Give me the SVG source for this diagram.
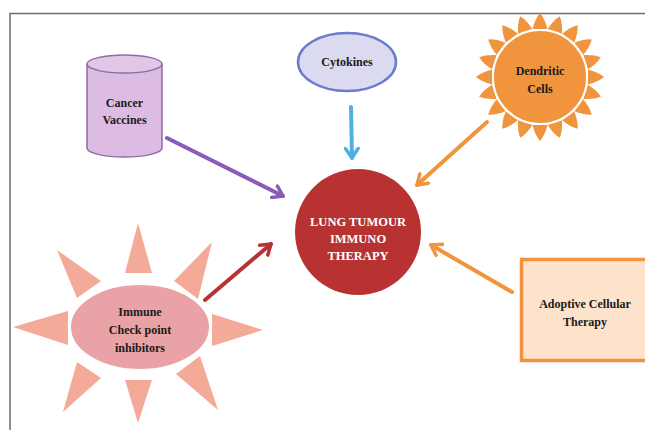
<svg xmlns="http://www.w3.org/2000/svg" width="645" height="430" viewBox="0 0 645 430">
<defs>
<style>
text{font-family:'Liberation Serif','Times New Roman','DejaVu Serif',serif;font-weight:bold;font-size:12px;fill:#1a1a1a;text-anchor:middle}
.conn line{stroke-width:4;stroke-linecap:round;fill:none}
</style>
<marker id="mPurple" viewBox="0 0 10 10" refX="7" refY="5" markerWidth="4" markerHeight="4" orient="auto" markerUnits="strokeWidth"><path d="M1,1 L7,5 L1,9" fill="none" stroke="#8a5cb8" stroke-width="2.2" stroke-linecap="round" stroke-linejoin="round"/></marker>
<marker id="mBlue" viewBox="0 0 10 10" refX="7" refY="5" markerWidth="4" markerHeight="4" orient="auto" markerUnits="strokeWidth"><path d="M1,1 L7,5 L1,9" fill="none" stroke="#4fb0e0" stroke-width="2.2" stroke-linecap="round" stroke-linejoin="round"/></marker>
<marker id="mOrange" viewBox="0 0 10 10" refX="7" refY="5" markerWidth="4" markerHeight="4" orient="auto" markerUnits="strokeWidth"><path d="M1,1 L7,5 L1,9" fill="none" stroke="#f0943e" stroke-width="2.2" stroke-linecap="round" stroke-linejoin="round"/></marker>
<marker id="mRed" viewBox="0 0 10 10" refX="7" refY="5" markerWidth="4" markerHeight="4" orient="auto" markerUnits="strokeWidth"><path d="M1,1 L7,5 L1,9" fill="none" stroke="#b83232" stroke-width="2.2" stroke-linecap="round" stroke-linejoin="round"/></marker>
</defs>
<rect width="645" height="430" fill="#ffffff"/>
<path d="M10,430 V13.5 H645" fill="none" stroke="#6d6d6d" stroke-width="1.5"/>

<g id="checkpoint">
<g fill="#f4aa98">
<polygon points="138,223 125,273 152,273"/>
<polygon points="138,423 125,380 152,380"/>
<polygon points="13,327 68,311 68,345"/>
<polygon points="263,330 212,314 212,346"/>
<polygon points="57,250 77,298 101,281"/>
<polygon points="212,242 174,281 198,299"/>
<polygon points="63,412 77,362 101,378"/>
<polygon points="218,410 176,374 200,356"/>
</g>
<ellipse cx="140" cy="327" rx="70" ry="43" fill="#e9a3a6" stroke="#ffffff" stroke-width="2"/>
<text x="140" y="316" font-family="Liberation Serif, serif">Immune</text>
<text x="140" y="334">Check point</text>
<text x="140" y="352">inhibitors</text>
</g>

<g id="vaccines">
<path d="M87,64 V148 A37.5,9 0 0 0 162,148 V64" fill="#dcbce2" stroke="#8e6aa8" stroke-width="1.5"/>
<ellipse cx="124.5" cy="64" rx="37.5" ry="9" fill="#e2c6e8" stroke="#8e6aa8" stroke-width="1.5"/>
<text x="124.5" y="107">Cancer</text>
<text x="124.5" y="124">Vaccines</text>
</g>

<g id="cytokines">
<ellipse cx="347" cy="62" rx="49" ry="29" fill="#dcdaf0" stroke="#6b7ccc" stroke-width="2.5"/>
<text x="347" y="66">Cytokines</text>
</g>

<g id="dendritic">
<g fill="#f0943e" transform="translate(540,77)">
<g id="ray"><path d="M-7.5,-48 Q-5,-58 0,-64 Q5,-58 7.5,-48 Z"/></g>
<use href="#ray" transform="rotate(18)"/><use href="#ray" transform="rotate(36)"/><use href="#ray" transform="rotate(54)"/><use href="#ray" transform="rotate(72)"/><use href="#ray" transform="rotate(90)"/><use href="#ray" transform="rotate(108)"/><use href="#ray" transform="rotate(126)"/><use href="#ray" transform="rotate(144)"/><use href="#ray" transform="rotate(162)"/><use href="#ray" transform="rotate(180)"/><use href="#ray" transform="rotate(198)"/><use href="#ray" transform="rotate(216)"/><use href="#ray" transform="rotate(234)"/><use href="#ray" transform="rotate(252)"/><use href="#ray" transform="rotate(270)"/><use href="#ray" transform="rotate(288)"/><use href="#ray" transform="rotate(306)"/><use href="#ray" transform="rotate(324)"/><use href="#ray" transform="rotate(342)"/>
</g>
<circle cx="540" cy="77" r="47" fill="#f0943e" stroke="#ffffff" stroke-width="2"/>
<text x="540" y="75">Dendritic</text>
<text x="540" y="93">Cells</text>
</g>

<g id="therapy">
<circle cx="358" cy="232" r="63" fill="#b83232"/>
<text x="358" y="226" style="fill:#ffffff;font-size:12.5px">LUNG TUMOUR</text>
<text x="358" y="243" style="fill:#ffffff;font-size:12.5px">IMMUNO</text>
<text x="358" y="260" style="fill:#ffffff;font-size:12.5px">THERAPY</text>
</g>

<g id="adoptive">
<rect x="521.5" y="259.5" width="130" height="101" fill="#fde2cc" stroke="#f0943e" stroke-width="3.5"/>
<text x="585" y="308">Adoptive Cellular</text>
<text x="585" y="326">Therapy</text>
</g>

<g class="conn" id="connectors">
<line x1="167" y1="138" x2="283" y2="196" stroke="#8a5cb8" marker-end="url(#mPurple)"/>
<line x1="351" y1="107" x2="352" y2="158" stroke="#4fb0e0" marker-end="url(#mBlue)"/>
<line x1="487" y1="122" x2="417" y2="185" stroke="#f0943e" marker-end="url(#mOrange)"/>
<line x1="512" y1="292" x2="431" y2="245" stroke="#f0943e" marker-end="url(#mOrange)"/>
<line x1="205" y1="300" x2="271" y2="244" stroke="#b83232" marker-end="url(#mRed)"/>
</g>
</svg>
